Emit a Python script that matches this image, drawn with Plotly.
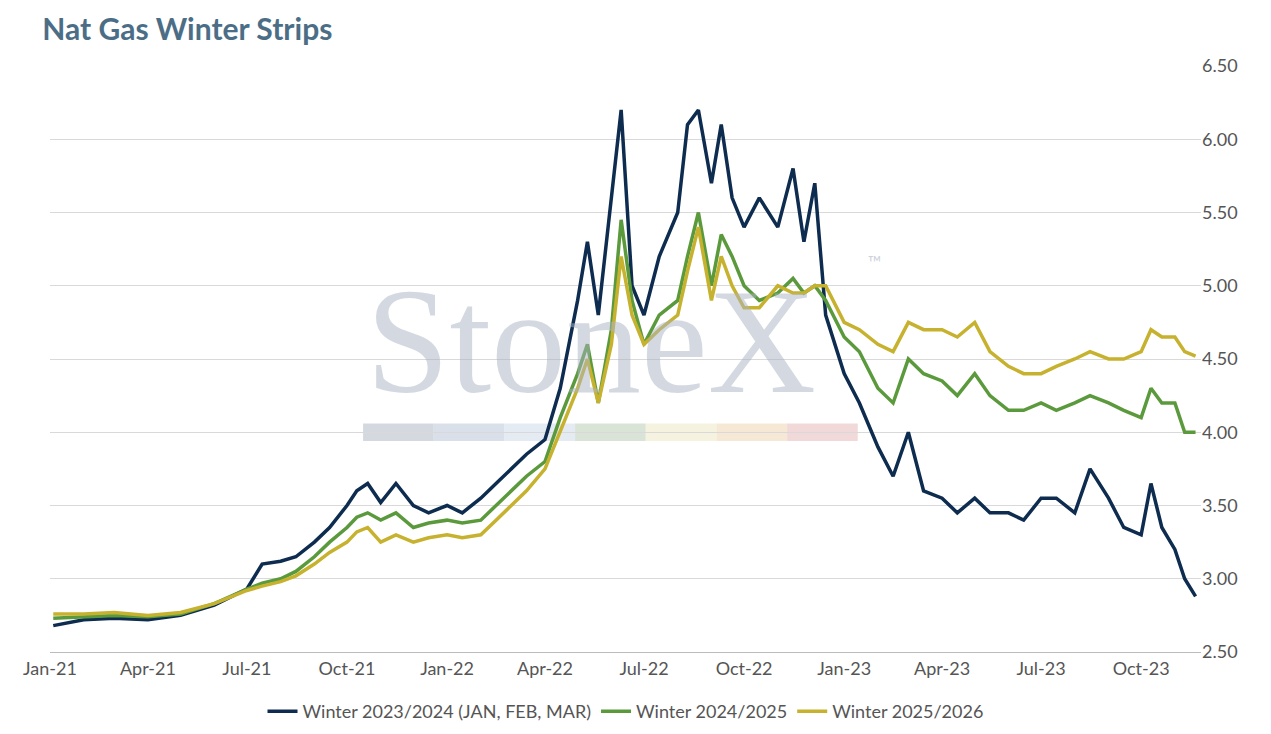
import plotly.graph_objects as go

dates = ["2021-01-04","2021-02-01","2021-03-01","2021-04-01","2021-05-01","2021-06-01","2021-07-01","2021-07-15","2021-08-01","2021-08-15","2021-09-01","2021-09-15","2021-10-01","2021-10-10","2021-10-20","2021-11-01","2021-11-15","2021-12-01","2021-12-15",
"2022-01-01","2022-01-15","2022-02-01","2022-02-15","2022-03-01","2022-03-15","2022-04-01","2022-04-15","2022-05-01","2022-05-10","2022-05-20","2022-06-01","2022-06-10","2022-06-20","2022-07-01","2022-07-15","2022-08-01","2022-08-10","2022-08-20","2022-09-01","2022-09-10","2022-09-20","2022-10-01","2022-10-15","2022-11-01","2022-11-15","2022-11-25","2022-12-05","2022-12-15",
"2023-01-01","2023-01-15","2023-02-01","2023-02-15","2023-03-01","2023-03-15","2023-04-01","2023-04-15","2023-05-01","2023-05-15","2023-06-01","2023-06-15","2023-07-01","2023-07-15","2023-08-01","2023-08-15","2023-09-01","2023-09-15","2023-10-01","2023-10-10","2023-10-20","2023-11-01","2023-11-10","2023-11-20"]

w2324 = [2.68,2.72,2.73,2.72,2.75,2.82,2.93,3.10,3.12,3.15,3.25,3.35,3.50,3.60,3.65,3.52,3.65,3.50,3.45,
3.50,3.45,3.55,3.65,3.75,3.85,3.95,4.30,4.90,5.30,4.80,5.60,6.20,5.00,4.80,5.20,5.50,6.10,6.20,5.70,6.10,5.60,5.40,5.60,5.40,5.80,5.30,5.70,4.80,
4.40,4.20,3.90,3.70,4.00,3.60,3.55,3.45,3.55,3.45,3.45,3.40,3.55,3.55,3.45,3.75,3.55,3.35,3.30,3.65,3.35,3.20,3.00,2.88]

w2425 = [2.73,2.74,2.75,2.74,2.76,2.83,2.93,2.97,3.00,3.05,3.15,3.25,3.35,3.42,3.45,3.40,3.45,3.35,3.38,
3.40,3.38,3.40,3.50,3.60,3.70,3.80,4.10,4.40,4.60,4.20,4.70,5.45,4.90,4.60,4.80,4.90,5.20,5.50,5.00,5.35,5.20,5.00,4.90,4.95,5.05,4.95,5.00,4.90,
4.65,4.55,4.30,4.20,4.50,4.40,4.35,4.25,4.40,4.25,4.15,4.15,4.20,4.15,4.20,4.25,4.20,4.15,4.10,4.30,4.20,4.20,4.00,4.00]

w2526 = [2.76,2.76,2.77,2.75,2.77,2.83,2.92,2.95,2.98,3.02,3.10,3.18,3.25,3.32,3.35,3.25,3.30,3.25,3.28,
3.30,3.28,3.30,3.40,3.50,3.60,3.75,4.00,4.30,4.50,4.20,4.60,5.20,4.80,4.60,4.70,4.80,5.10,5.40,4.90,5.20,5.00,4.85,4.85,5.00,4.95,4.95,5.00,5.00,
4.75,4.70,4.60,4.55,4.75,4.70,4.70,4.65,4.75,4.55,4.45,4.40,4.40,4.45,4.50,4.55,4.50,4.50,4.55,4.70,4.65,4.65,4.55,4.52]

names = ["Winter 2023/2024 (JAN, FEB, MAR)", "Winter 2024/2025", "Winter 2025/2026"]
colors = ["#0d2c4f", "#5b9a3c", "#c6b22e"]

fig = go.Figure()
for n, ys, c in zip(names, [w2324, w2425, w2526], colors):
    fig.add_trace(go.Scatter(x=dates, y=ys, name=n, mode="lines", line=dict(color=c, width=3.5)))

fig.add_annotation(text="StoneX", xref="paper", yref="paper", x=0.47, y=0.675, xanchor="center", showarrow=False,
                   font=dict(family="Liberation Serif", size=150, color="rgba(170,180,195,0.5)"))
fig.add_annotation(text="™", xref="paper", yref="paper", x=0.725, y=0.665, showarrow=False,
                   font=dict(family="Lato", size=18, color="rgba(170,180,195,0.6)"))
bar_cols = ["#c9cfd8","#cfd8e3","#dde6ef","#cfdccc","#f3f0d8","#f3e3cc","#efcfcf"]
for i, bc in enumerate(bar_cols):
    fig.add_shape(type="rect", xref="paper", yref="paper", x0=0.272+i*0.0614, x1=0.272+(i+1)*0.0614,
                  y0=0.36, y1=0.39, fillcolor=bc, line_width=0, opacity=0.8, layer="below")

fig.update_layout(
    width=1271, height=734, paper_bgcolor="white", plot_bgcolor="white",
    title=dict(text="<b>Nat Gas Winter Strips</b>", x=0.027, y=0.985, yanchor="top", yref="container", font=dict(family="Lato", size=30, color="#4b6e86")),
    margin=dict(l=42, r=78, t=58, b=86),
    font=dict(family="Lato", size=18, color="#555"),
    legend=dict(orientation="h", x=0.5, xanchor="center", y=-0.07, font=dict(size=18, color="#555")),
    xaxis=dict(range=["2021-01-01","2023-11-25"], tickformat="%b-%y", dtick="M3", tick0="2021-01-01",
               showgrid=False, showline=True, linecolor="#bbb", ticks="outside", ticklen=0),
    yaxis=dict(side="right", range=[2.5, 6.5], dtick=0.5, tickformat=".2f", gridcolor="#d9d9d9", zeroline=False),
)
fig.write_html("out.html")
